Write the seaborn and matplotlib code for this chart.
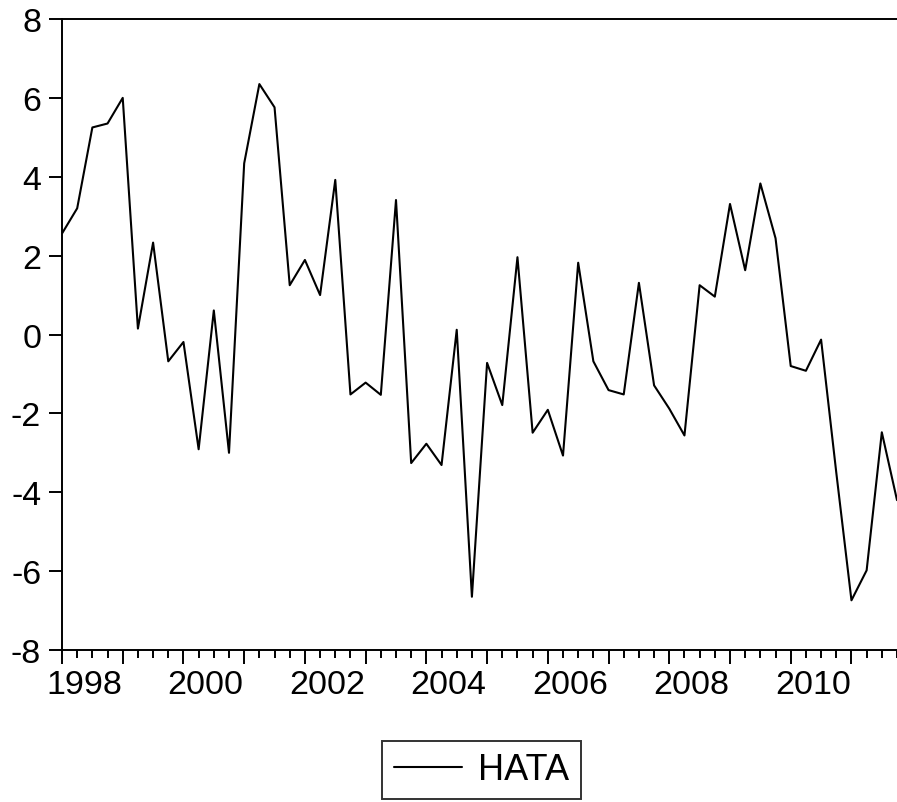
import numpy as np
import pandas as pd
import seaborn as sns
import matplotlib
matplotlib.use("Agg")
import matplotlib.pyplot as plt
from matplotlib.transforms import ScaledTranslation
from matplotlib.lines import Line2D

# ---- data (quarterly, 1998Q1 .. 2011Q4) ----
start_year = 1998
series_name = "HATA"
hata = [2.56, 3.20, 5.25, 5.35, 6.00, 0.15, 2.33, -0.68,
        -0.19, -2.91, 0.61, -3.00, 4.34, 6.35, 5.76, 1.25,
        1.89, 1.00, 3.92, -1.52, -1.22, -1.53, 3.41, -3.26,
        -2.77, -3.31, 0.12, -6.65, -0.72, -1.79, 1.96, -2.49,
        -1.91, -3.07, 1.82, -0.68, -1.41, -1.52, 1.31, -1.29,
        -1.88, -2.56, 1.25, 0.96, 3.31, 1.63, 3.83, 2.44,
        -0.80, -0.92, -0.13, -3.50, -6.74, -5.98, -2.48, -4.20]
year_labels = ["1998", "2000", "2002", "2004", "2006", "2008", "2010"]
y_ticks = [-8, -6, -4, -2, 0, 2, 4, 6, 8]

t = [start_year + i / 4 for i in range(len(hata))]
df = pd.DataFrame({"t": t, series_name: hata})

sns.set_theme(style="white")
plt.rcParams["font.family"] = ["Liberation Sans", "DejaVu Sans"]
plt.rcParams["text.color"] = "black"
plt.rcParams["axes.labelcolor"] = "black"

fig = plt.figure(figsize=(8.97, 8.03), dpi=100)
ax = fig.add_axes([62 / 897, 1 - 651 / 803, 1 - 62 / 897, (651 - 20) / 803])

sns.lineplot(data=df, x="t", y=series_name, ax=ax, color="black",
             linewidth=1.5, legend=False)

ax.set_xlim(start_year, start_year + 54.75 / 4)
ax.set_ylim(-8, 8)
ax.set_xlabel("")
ax.set_ylabel("")

ax.set_yticks(y_ticks)
ax.set_yticklabels([str(v) for v in y_ticks])

years = list(range(start_year, 2012))
ax.set_xticks(years)
ax.set_xticklabels([str(y) if str(y) in year_labels else "" for y in years])
ax.set_xticks([start_year + i / 4 for i in range(56) if i % 4 != 0], minor=True)

ax.tick_params(axis="both", which="major", direction="out", color="black",
               labelsize=24.5, labelcolor="black")
ax.tick_params(axis="y", which="major", length=9.5, width=1.4, pad=5.5,
               left=True)
ax.tick_params(axis="x", which="major", length=10, width=1.4, pad=4,
               bottom=True)
ax.tick_params(axis="x", which="minor", length=6.0, width=1.4,
               direction="out", color="black", bottom=True)

offset = ScaledTranslation(0.22, 0, fig.dpi_scale_trans)
for lab in ax.get_xticklabels():
    lab.set_transform(lab.get_transform() + offset)

for side in ["left", "bottom", "top"]:
    ax.spines[side].set_visible(True)
    ax.spines[side].set_color("black")
    ax.spines[side].set_linewidth(1.4)
ax.spines["right"].set_visible(False)
ax.grid(False)
ax.set_facecolor("white")

handle = Line2D([], [], color="black", linewidth=1.5)
leg = fig.legend([handle], [series_name], loc="center",
                 bbox_to_anchor=(481.5 / 897, 1 - 771 / 803),
                 frameon=True, fancybox=False, fontsize=26,
                 handlelength=1.9, handletextpad=0.45, borderpad=0.32,
                 borderaxespad=0)
for txt in leg.get_texts():
    txt.set_color("black")
leg.get_frame().set_edgecolor("black")
leg.get_frame().set_linewidth(1.4)

fig.savefig("out.png", dpi=100, facecolor="white")
